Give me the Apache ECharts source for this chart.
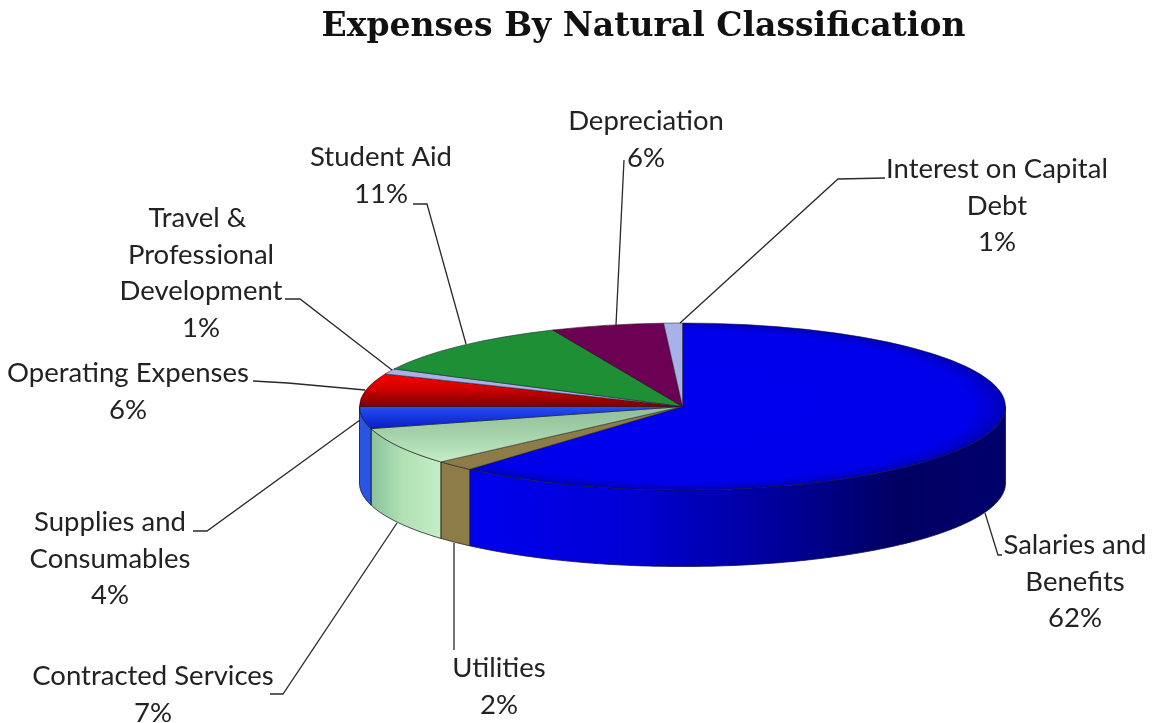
<!DOCTYPE html>
<html>
<head>
<meta charset="utf-8">
<title>Expenses By Natural Classification</title>
<style>html,body{margin:0;padding:0;background:#fff}#chart{width:1155px;height:723px}</style>
<script src="https://cdn.jsdelivr.net/npm/echarts@6/dist/echarts.min.js"></script>
</head>
<body>
<div id="chart"></div>
<script>
// Shares of total expenses, clockwise from twelve o'clock.
const categories = [
  'Salaries and\nBenefits', 'Utilities', 'Contracted Services',
  'Supplies and\nConsumables', 'Operating Expenses',
  'Travel &\u00a0\nProfessional\nDevelopment', 'Student Aid',
  'Depreciation', 'Interest on Capital\nDebt'
];
const percents = [62, 2, 7, 4, 6, 1, 11, 6, 1];

// Disc geometry: the top face is an ellipse, the wall hangs below it.
const CX = 682.5, CY = 406.5, RX = 323, RY = 83.5, DEPTH = 76.5;
const SQUASH = RY / RX;
const TAU = Math.PI * 2;
// Foreshortening of the tilted view: slices bunch slightly along the diagonals.
const SKEW = 2 * Math.PI / 180;
const view = theta => theta - SKEW * Math.sin(2 * theta);

const { LinearGradient, RadialGradient } = echarts.graphic;
const hStops = (x0, x1, stops) => new LinearGradient(x0, 0, x1, 0,
  stops.map(([o, color]) => ({ offset: o, color })), true);
// Vertical gradient for a top face, given in the unsquashed local space.
const vStops = (y0, y1, stops) => new LinearGradient(0, y0, 0, y1,
  stops.map(([o, color]) => ({ offset: o, color })), true);

const topFills = [
  new RadialGradient(0, 0, RX, [
    { offset: 0, color: '#0000f0' }, { offset: 0.9, color: '#0000ea' },
    { offset: 0.96, color: '#0000d0' }, { offset: 1, color: '#0000b0' }
  ], true),
  '#8d7c48',
  vStops(0, 215, [[0, '#8fbd98'], [0.5, '#a6d2aa'], [1, '#c4eec4']]),
  vStops(0, 85, [[0, '#2450f2'], [1, '#0a1cc8']]),
  vStops(-135, 0, [[0, '#fa0000'], [0.45, '#d80000'], [1, '#7a0000']]),
  '#a9b2e8', '#1f8f36', '#6c0052', '#a9b2e8'
];
const wallFills = [
  hStops(467, 1006, [[0, '#0000ee'], [0.28, '#0000d8'], [0.55, '#0000a0'], [0.8, '#000062'], [1, '#00006c']]),
  '#8d7c48',
  hStops(373, 437, [[0, '#8cc49c'], [0.45, '#b0e0b4'], [1, '#c2eec2']]),
  '#2a55e2', '#7a0000', '#a9b2e8', '#1f8f36', '#6c0052', '#a9b2e8'
];
const edgeColors = ['#10104a', '#222', '#222', '#112', '#300', '#223', '#123', '#201', '#223'];

// Text anchors: centre x and the y of the first line's middle.
const labelAnchors = [
  [1075, 545], [499, 668], [153, 676], [110, 522], [128, 373],
  [201, 218], [381, 157], [646, 121], [997, 169]
];
// Leader lines from each label to its slice.
const leaders = [
  [[1002, 555], [998, 555], [985, 513]],
  [[454, 650], [454, 543]],
  [[270, 694], [283, 694], [397, 523]],
  [[193, 531], [207, 531], [360, 420]],
  [[253, 381], [288, 383], [365, 390]],
  [[285, 299], [300, 299], [392, 370]],
  [[413, 204], [427, 204], [466, 344]],
  [[624, 160], [616, 325]],
  [[885, 178], [838, 179], [680, 323]]
];

const total = percents.reduce((a, b) => a + b, 0);
const sweepStart = percents.map((_, i) =>
  percents.slice(0, i).reduce((a, b) => a + b, 0) / total * TAU);

const rimPoint = (theta, drop) => [CX + RX * Math.sin(theta), CY - RY * Math.cos(theta) + drop];

function renderSlice(params, api) {
  const i = params.dataIndex;
  const a0 = view(sweepStart[i]);
  const a1 = view(sweepStart[i] + api.value(0) / total * TAU);
  const children = [];

  // Only the part of the rim facing the viewer (3 o'clock to 9 o'clock) shows a wall.
  const w0 = Math.max(a0, Math.PI / 2), w1 = Math.min(a1, Math.PI * 1.5);
  if (w1 > w0) {
    const n = Math.max(2, Math.ceil((w1 - w0) * 60));
    const upper = [], lower = [];
    for (let k = 0; k <= n; k++) {
      const t = w0 + (w1 - w0) * k / n;
      upper.push(rimPoint(t, 0));
      lower.unshift(rimPoint(t, DEPTH));
    }
    children.push({
      type: 'polygon',
      shape: { points: upper.concat(lower) },
      style: { fill: wallFills[i], stroke: edgeColors[i], lineWidth: 0.8 }
    });
  }

  children.push({
    type: 'group', x: CX, y: CY, scaleY: SQUASH,
    children: [{
      type: 'sector',
      shape: { cx: 0, cy: 0, r0: 0, r: RX, startAngle: a0 - Math.PI / 2, endAngle: a1 - Math.PI / 2, clockwise: true },
      style: { fill: topFills[i], stroke: edgeColors[i], lineWidth: 0.9, strokeNoScale: true }
    }]
  });

  children.push({
    type: 'polyline',
    shape: { points: leaders[i] },
    style: { fill: 'none', stroke: '#2a2a2a', lineWidth: 1.3 }
  });

  children.push({
    type: 'text',
    x: labelAnchors[i][0], y: labelAnchors[i][1] - 18,
    style: {
      text: categories[i] + '\n' + api.value(0) + '%',
      fill: '#222', align: 'center', verticalAlign: 'top',
      font: '27.5px Lato', lineHeight: 36.5
    }
  });

  return { type: 'group', children };
}

const chart = echarts.init(document.getElementById('chart'), null, { renderer: 'canvas' });
chart.setOption({
  backgroundColor: '#fff',
  animation: false,
  title: {
    text: 'Expenses By Natural Classification',
    left: 638.5, top: 6, textAlign: 'center',
    textStyle: { fontFamily: '"DejaVu Serif"', fontWeight: 'bold', fontSize: 33, color: '#111' }
  },
  series: [{
    type: 'custom',
    coordinateSystem: 'none',
    silent: true,
    renderItem: renderSlice,
    data: percents.map(v => [v])
  }]
});
</script>
</body>
</html>
